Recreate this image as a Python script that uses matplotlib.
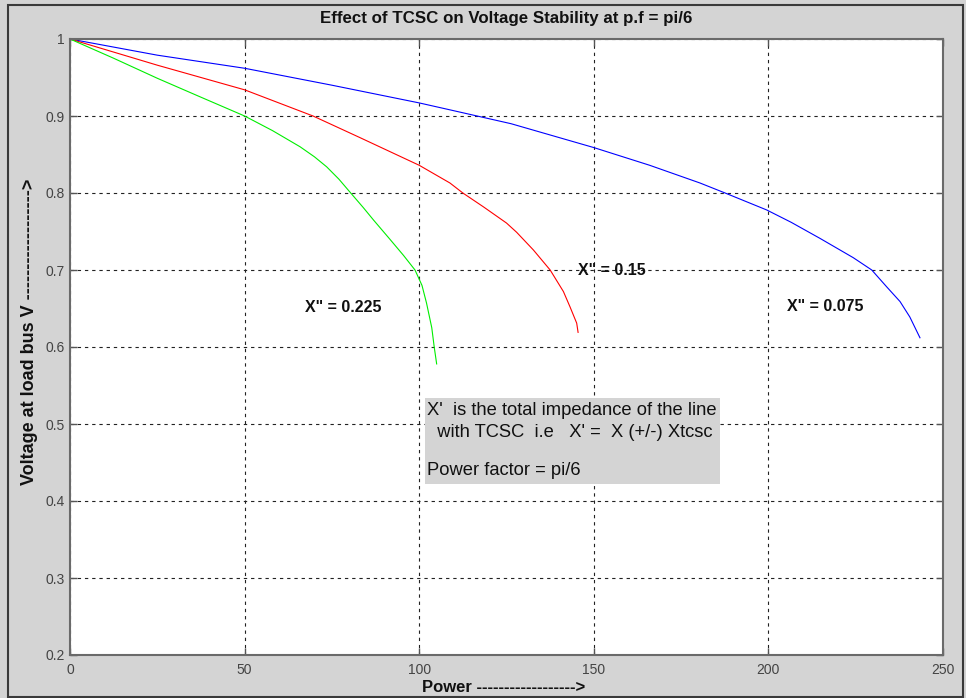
import matplotlib.pyplot as plt
from matplotlib.patches import Rectangle

plt.rcParams['font.family'] = ['Liberation Sans', 'DejaVu Sans']

# curves: power, voltage
p_075 = [0, 25, 50, 75, 100, 108.8, 126.3, 150, 166, 180.4, 187.6, 199.5, 206.5, 214.8,
         224.3, 229.6, 233.9, 237.7, 240.5, 243.4]
v_075 = [1.0, 0.979, 0.962, 0.940, 0.917, 0.908, 0.890, 0.859, 0.836, 0.813, 0.800, 0.778, 0.762, 0.741,
         0.716, 0.700, 0.678, 0.659, 0.639, 0.612]

p_15 = [0, 25, 50, 69.6, 83, 100, 108.8, 112.5, 118.4, 125, 127.9, 132.7, 137.5, 141.3,
        143.2, 145.1, 145.5]
v_15 = [1.0, 0.966, 0.934, 0.900, 0.872, 0.836, 0.813, 0.800, 0.782, 0.761, 0.749, 0.726, 0.700, 0.672,
        0.652, 0.631, 0.619]

p_225 = [0, 12.5, 25, 37.2, 50, 58, 65.9, 70, 73.5, 77, 80.2, 84, 86.9, 91.6, 95.5, 98.8,
         100.8, 102.1, 103.6, 104.3, 105]
v_225 = [1.0, 0.975, 0.949, 0.925, 0.900, 0.881, 0.860, 0.847, 0.834, 0.818, 0.801, 0.781, 0.765, 0.740,
         0.719, 0.700, 0.680, 0.657, 0.625, 0.600, 0.578]

xticks = [0, 50, 100, 150, 200, 250]
yticks = [0.2, 0.3, 0.4, 0.5, 0.6, 0.7, 0.8, 0.9, 1]
ytick_labels = ['0.2', '0.3', '0.4', '0.5', '0.6', '0.7', '0.8', '0.9', '1']

bg = '#d4d4d4'
fig = plt.figure(figsize=(9.66, 6.98), dpi=100, facecolor=bg)

# outer window frame
fig.patches.append(Rectangle((8 / 966, 1 / 698), 955 / 966, 692 / 698, transform=fig.transFigure,
                             fill=False, edgecolor='#3a3a3a', linewidth=1.5))

ax = fig.add_axes([70 / 966, 43 / 698, 873 / 966, 616 / 698])
ax.set_facecolor('white')

ax.plot(p_075, v_075, color='blue', linewidth=0.8)
ax.plot(p_15, v_15, color='red', linewidth=0.8)
ax.plot(p_225, v_225, color='#00ee00', linewidth=0.8)

ax.set_xlim(0, 250)
ax.set_ylim(0.2, 1)
ax.set_xticks(xticks)
ax.set_yticks(yticks)
ax.set_yticklabels(ytick_labels)
ax.tick_params(direction='in', length=5, width=1, color='#555555', labelcolor='#444444',
               labelsize=10, top=True, right=True)
ax.tick_params(axis='x', pad=6)
ax.tick_params(axis='y', pad=4)

ax.grid(True, color='#222222', linestyle=(0, (3, 3.5)), linewidth=0.8)
for s in ax.spines.values():
    s.set_color('#6a6a6a')
    s.set_linewidth(1.5)

# curve labels
lab = dict(fontsize=11.5, fontweight='bold', va='center', color='#111111')
ax.text(67.3, 0.651, 'X" = 0.225', **lab)
ax.text(145.5, 0.699, 'X" = 0.15', **lab)
ax.text(205.2, 0.653, 'X" = 0.075', **lab)

# note box
ax.add_patch(Rectangle((101.7, 0.422), 84.4, 0.112, facecolor=bg, edgecolor='none', zorder=3))
note = dict(fontsize=13.2, va='center', ha='left', color='#111111', zorder=4)
ax.text(102.1, 0.517, "X'  is the total impedance of the line", **note)
ax.text(102.1, 0.489, "  with TCSC  i.e   X' =  X (+/-) Xtcsc", **note)
ax.text(102.1, 0.440, "Power factor = pi/6", **note)

fig.text(506 / 966, 1 - 19 / 698, 'Effect of TCSC on Voltage Stability at p.f = pi/6',
         ha='center', va='center', fontsize=12.2, fontweight='bold', color='#111111')
fig.text(504 / 966, 1 - 688 / 698, 'Power ------------------>',
         ha='center', va='center', fontsize=12, fontweight='bold', color='#111111')
fig.text(30 / 966, 1 - 332 / 698, 'Voltage at load bus V ------------------>',
         ha='center', va='center', rotation=90, fontsize=13, fontweight='bold', color='#111111')

plt.savefig('out.png', dpi=100, facecolor=bg)
